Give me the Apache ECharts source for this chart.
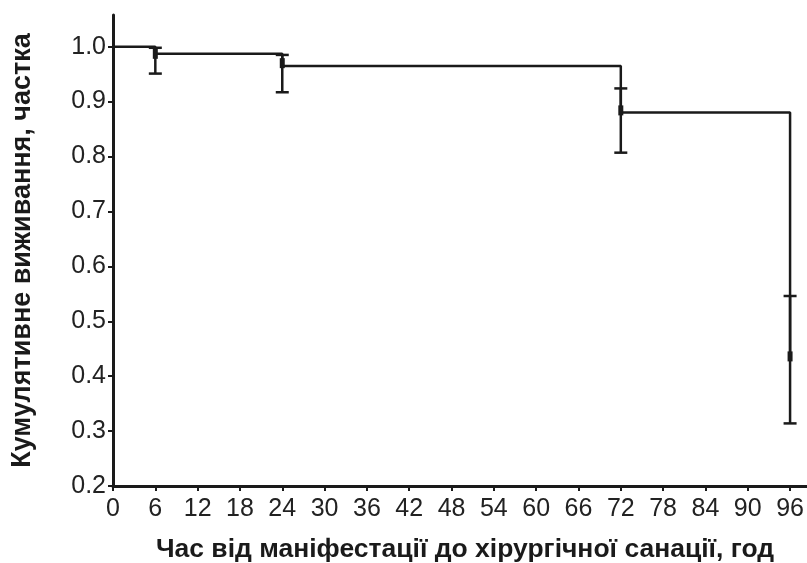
<!DOCTYPE html>
<html>
<head>
<meta charset="utf-8">
<title>Кумулятивне виживання</title>
<script src="https://cdn.jsdelivr.net/npm/echarts@6/dist/echarts.min.js"></script>
<style>
  html, body { margin: 0; padding: 0; background: #fff; }
  #chart { width: 807px; height: 563px; }
</style>
</head>
<body>
<div id="chart"></div>
<script>
// крива Каплана-Мейєра (ступінчаста)
const times = [0, 6, 24, 72, 96];
const survival = [1.0, 0.987, 0.965, 0.880, 0.436];

// довірчі інтервали у точках подій
const errTimes = [6, 24, 72, 96];
const errMid = [0.987, 0.970, 0.884, 0.436];
const errLow = [0.951, 0.917, 0.807, 0.314];
const errHigh = [0.998, 0.985, 0.924, 0.546];

const xTicks = [0, 6, 12, 18, 24, 30, 36, 42, 48, 54, 60, 66, 72, 78, 84, 90, 96];
const yTicks = [0.2, 0.3, 0.4, 0.5, 0.6, 0.7, 0.8, 0.9, 1.0];

const ink = '#1a1a1a';
const font = 'Liberation Sans, Arial, sans-serif';

let myChart = echarts.init(document.getElementById('chart'));

const option = {
  animation: false,
  grid: {
    left: 113,
    right: 0,
    top: 15,
    bottom: 77,
    outerBoundsMode: 'none'
  },
  xAxis: {
    type: 'value',
    min: 0,
    max: 98.4,
    name: 'Час від маніфестації до хірургічної санації, год',
    nameLocation: 'middle',
    nameGap: 50,
    nameTextStyle: { color: ink, fontSize: 26.5, fontWeight: 'bold', fontFamily: font, padding: [0, 0, 0, 10] },
    splitLine: { show: false },
    axisLine: { lineStyle: { color: ink, width: 3 } },
    axisTick: { customValues: xTicks, length: 5, lineStyle: { color: ink, width: 2 } },
    axisLabel: {
      customValues: xTicks,
      margin: 11,
      color: '#222',
      fontSize: 25,
      fontFamily: font
    }
  },
  yAxis: {
    type: 'value',
    min: 0.2,
    max: 1.0577,
    name: 'Кумулятивне виживання, частка',
    nameLocation: 'middle',
    nameGap: 77,
    nameTextStyle: { color: ink, fontSize: 27, fontWeight: 'bold', fontFamily: font },
    splitLine: { show: false },
    axisLine: { lineStyle: { color: ink, width: 3 } },
    axisTick: { customValues: yTicks, length: 5, lineStyle: { color: ink, width: 2 } },
    axisLabel: {
      customValues: yTicks,
      margin: 7,
      color: '#222',
      fontSize: 25,
      fontFamily: font,
      formatter: function (v) {
        return v.toFixed(1);
      }
    }
  },
  series: [
    {
      name: 'survival',
      type: 'line',
      step: 'end',
      data: times.map((t, i) => [t, survival[i]]),
      showSymbol: false,
      lineStyle: { color: ink, width: 2.5 },
      z: 3
    },
    {
      name: 'ci',
      type: 'custom',
      data: errTimes.map((t, i) => [t, errLow[i], errHigh[i], errMid[i]]),
      renderItem: function (params, api) {
        const lo = api.coord([api.value(0), api.value(1)]);
        const hi = api.coord([api.value(0), api.value(2)]);
        const mid = api.coord([api.value(0), api.value(3)]);
        const cap = 6.5;
        const style = { stroke: ink, lineWidth: 2.5 };
        return {
          type: 'group',
          children: [
            { type: 'line', shape: { x1: lo[0], y1: lo[1], x2: hi[0], y2: hi[1] }, style: style },
            { type: 'line', shape: { x1: lo[0] - cap, y1: lo[1], x2: lo[0] + cap, y2: lo[1] }, style: style },
            { type: 'line', shape: { x1: hi[0] - cap, y1: hi[1], x2: hi[0] + cap, y2: hi[1] }, style: style },
            { type: 'rect', shape: { x: mid[0] - 2.5, y: mid[1] - 5, width: 5, height: 10 }, style: { fill: ink } }
          ]
        };
      },
      z: 4
    }
  ]
};

myChart.setOption(option, true);

window.addEventListener('resize', () => {
  myChart.resize();
});
</script>
</body>
</html>
